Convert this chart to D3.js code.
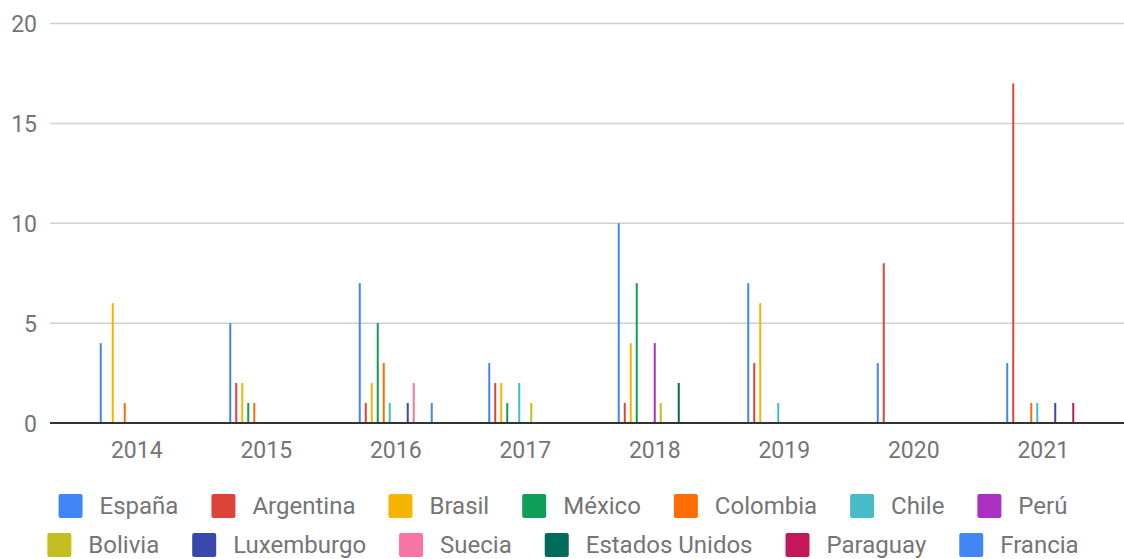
<!DOCTYPE html>
<html>
<head>
<meta charset="utf-8">
<script src="https://cdn.jsdelivr.net/npm/d3@7"></script>
<style>
  body { margin: 0; background: #fff; }
  svg { font-family: Roboto, "Noto Sans", sans-serif; }
</style>
</head>
<body>
<svg id="chart" width="1124" height="559"></svg>
<script>
// years on the x axis
const years = ['2014', '2015', '2016', '2017', '2018', '2019', '2020', '2021']
const yTicks = [0, 5, 10, 15, 20]

// one array per country, same order as years
const espana        = [4, 5, 7, 3, 10, 7, 3, 3]
const argentina     = [0, 2, 1, 2, 1, 3, 8, 17]
const brasil        = [6, 2, 2, 2, 4, 6, 0, 0]
const mexico        = [0, 1, 5, 1, 7, 0, 0, 0]
const colombia      = [1, 1, 3, 0, 0, 0, 0, 1]
const chile         = [0, 0, 1, 2, 0, 1, 0, 1]
const peru          = [0, 0, 0, 0, 4, 0, 0, 0]
const bolivia       = [0, 0, 0, 1, 1, 0, 0, 0]
const luxemburgo    = [0, 0, 1, 0, 0, 0, 0, 1]
const suecia        = [0, 0, 2, 0, 0, 0, 0, 0]
const estadosUnidos = [0, 0, 0, 0, 2, 0, 0, 0]
const paraguay      = [0, 0, 0, 0, 0, 0, 0, 1]
const francia       = [0, 0, 1, 0, 0, 0, 0, 0]

const countries = ['España', 'Argentina', 'Brasil', 'México', 'Colombia', 'Chile', 'Perú',
  'Bolivia', 'Luxemburgo', 'Suecia', 'Estados Unidos', 'Paraguay', 'Francia']
const colors = ['#4285f4', '#db4437', '#f4b400', '#0f9d58', '#ff6d01', '#46bdc6', '#ab30c4',
  '#c3bd22', '#3949ab', '#f675a4', '#006a5b', '#c2185b', '#4285f4']

const seriesValues = [espana, argentina, brasil, mexico, colombia, chile, peru,
  bolivia, luxemburgo, suecia, estadosUnidos, paraguay, francia]

const svg = d3.select('#chart')
const textColor = '#757575'
const fontSize = 23

// scales
const yScale = d3.scaleLinear().domain([0, 20]).range([423, 23.5])

const groupW = 78
const step = (1108 - 72) / years.length
const pad = 1 - groupW / step
const x0 = d3.scaleBand().domain(years).range([72, 1108])
  .paddingInner(pad).paddingOuter(pad / 2)
const x1 = d3.scaleBand().domain(countries).range([0, x0.bandwidth()])
const barW = 2

// gridlines
svg.append('g')
  .selectAll('line')
  .data(yTicks.filter(d => d > 0))
  .enter()
  .append('line')
  .attr('x1', 50)
  .attr('x2', 1124)
  .attr('y1', d => yScale(d))
  .attr('y2', d => yScale(d))
  .attr('stroke', '#d0d0d0')
  .attr('stroke-width', 1.5)

// y labels
svg.append('g')
  .selectAll('text')
  .data(yTicks)
  .enter()
  .append('text')
  .attr('x', 37)
  .attr('y', d => yScale(d) + 8.5)
  .attr('text-anchor', 'end')
  .attr('fill', textColor)
  .style('font-size', fontSize + 'px')
  .text(d => d)

// bars
const flat = []
seriesValues.forEach((vals, si) => {
  vals.forEach((v, yi) => {
    if (v > 0) flat.push({ country: countries[si], year: years[yi], value: v, color: colors[si] })
  })
})

svg.append('g')
  .selectAll('rect')
  .data(flat)
  .enter()
  .append('rect')
  .attr('x', d => x0(d.year) + x1(d.country) + (x1.bandwidth() - barW) / 2)
  .attr('y', d => yScale(d.value))
  .attr('width', barW)
  .attr('height', d => yScale(0) - yScale(d.value))
  .attr('fill', d => d.color)

// baseline
svg.append('line')
  .attr('x1', 50)
  .attr('x2', 1124)
  .attr('y1', yScale(0))
  .attr('y2', yScale(0))
  .attr('stroke', '#333')
  .attr('stroke-width', 2)

// x labels
svg.append('g')
  .selectAll('text')
  .data(years)
  .enter()
  .append('text')
  .attr('x', d => x0(d) + x0.bandwidth() / 2)
  .attr('y', 458)
  .attr('text-anchor', 'middle')
  .attr('fill', textColor)
  .style('font-size', fontSize + 'px')
  .text(d => d)

// legend, two centred rows
const rows = [countries.slice(0, 7), countries.slice(7)]
const rowY = [506, 545]
const sq = 24, sqGap = 17, itemGap = 33, legendCenter = 563

rows.forEach((row, ri) => {
  const g = svg.append('g')
  let cursor = 0
  row.forEach(name => {
    const ci = countries.indexOf(name)
    g.append('rect')
      .attr('x', cursor)
      .attr('y', rowY[ri] - sq / 2)
      .attr('width', sq)
      .attr('height', sq)
      .attr('rx', 2)
      .attr('fill', colors[ci])
    const t = g.append('text')
      .attr('x', cursor + sq + sqGap)
      .attr('y', rowY[ri])
      .attr('dy', '0.35em')
      .attr('fill', textColor)
      .style('font-size', '24px')
      .text(name)
    cursor += sq + sqGap + t.node().getComputedTextLength() + itemGap
  })
  const total = cursor - itemGap
  g.attr('transform', `translate(${legendCenter - total / 2},0)`)
})
</script>
</body>
</html>
